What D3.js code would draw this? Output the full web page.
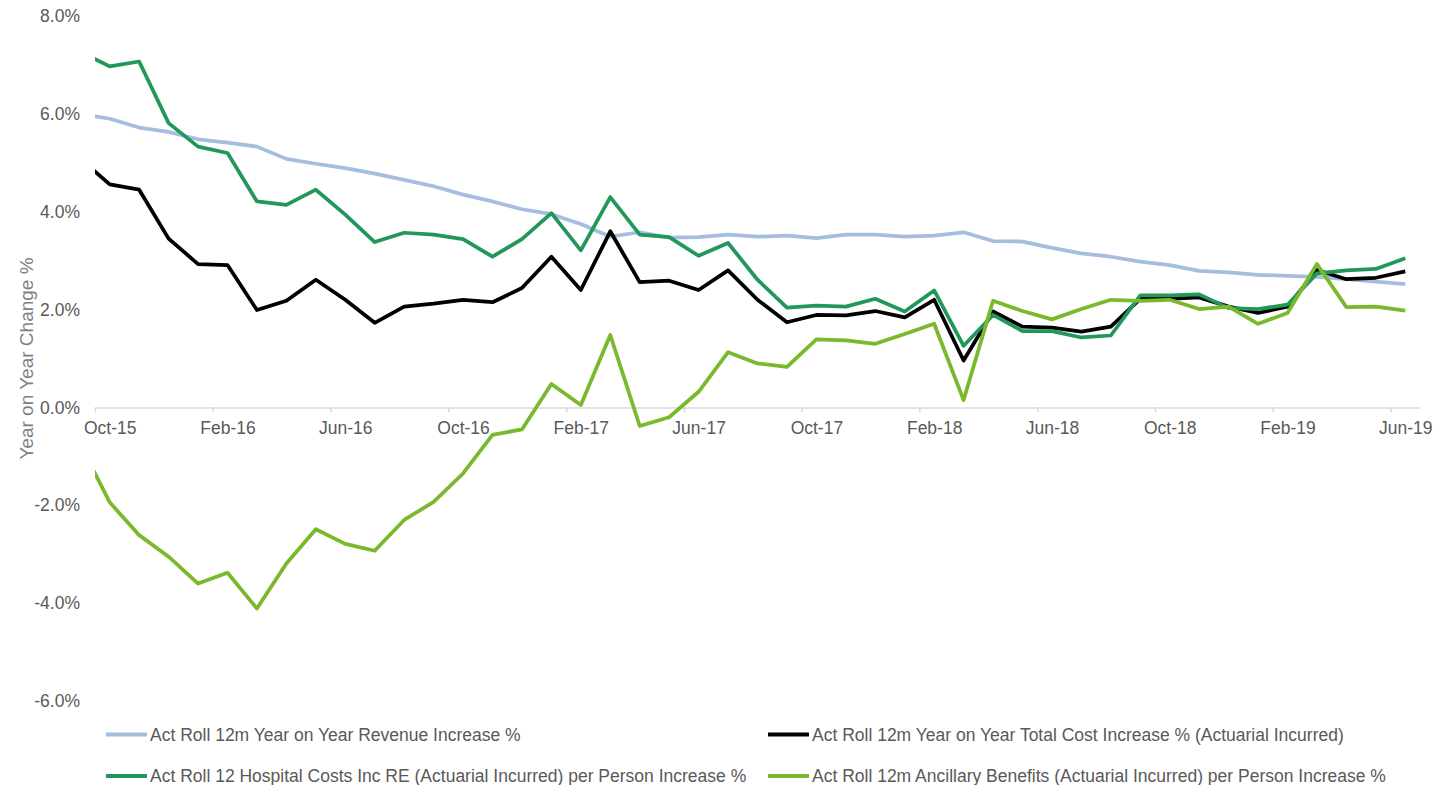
<!DOCTYPE html>
<html>
<head>
<meta charset="utf-8">
<script src="https://cdn.jsdelivr.net/npm/d3@7/dist/d3.min.js"></script>
<style>
  html, body { margin: 0; padding: 0; background: #ffffff; }
  svg { display: block; font-family: "Liberation Sans", Arial, sans-serif; }
</style>
</head>
<body>
<svg id="chart" width="1435" height="785"></svg>
<script>
// Months from Sep-15 to Jun-19; the Sep-15 point only feeds the clipped lead-in segment.
const months = [
  "Sep-15","Oct-15","Nov-15","Dec-15",
  "Jan-16","Feb-16","Mar-16","Apr-16","May-16","Jun-16","Jul-16","Aug-16","Sep-16","Oct-16","Nov-16","Dec-16",
  "Jan-17","Feb-17","Mar-17","Apr-17","May-17","Jun-17","Jul-17","Aug-17","Sep-17","Oct-17","Nov-17","Dec-17",
  "Jan-18","Feb-18","Mar-18","Apr-18","May-18","Jun-18","Jul-18","Aug-18","Sep-18","Oct-18","Nov-18","Dec-18",
  "Jan-19","Feb-19","Mar-19","Apr-19","May-19","Jun-19"
];

// Rolling 12 month year-on-year change, in percent
const revenue = [6.00, 5.90, 5.72, 5.63, 5.48, 5.41, 5.33, 5.08, 4.98, 4.89, 4.78, 4.65, 4.52, 4.35, 4.21, 4.05,
  3.95, 3.75, 3.49, 3.58, 3.47, 3.48, 3.53, 3.49, 3.51, 3.46, 3.53, 3.53, 3.49, 3.51, 3.58, 3.40, 3.39, 3.26,
  3.15, 3.08, 2.98, 2.91, 2.79, 2.76, 2.71, 2.69, 2.67, 2.62, 2.57, 2.52];
const totalCost = [5.08, 4.56, 4.45, 3.45, 2.93, 2.91, 1.99, 2.18, 2.61, 2.20, 1.73, 2.06, 2.12, 2.20, 2.15, 2.44,
  3.08, 2.40, 3.60, 2.56, 2.59, 2.40, 2.80, 2.20, 1.74, 1.89, 1.88, 1.97, 1.84, 2.20, 0.96, 1.96, 1.65, 1.63,
  1.55, 1.65, 2.22, 2.22, 2.25, 2.06, 1.93, 2.06, 2.81, 2.62, 2.65, 2.78];
const hospital = [7.27, 6.97, 7.07, 5.81, 5.33, 5.20, 4.21, 4.14, 4.45, 3.94, 3.38, 3.57, 3.53, 3.44, 3.08, 3.44,
  3.97, 3.21, 4.30, 3.53, 3.48, 3.10, 3.36, 2.61, 2.04, 2.08, 2.06, 2.22, 1.96, 2.39, 1.26, 1.89, 1.56, 1.56,
  1.43, 1.47, 2.29, 2.29, 2.31, 2.03, 2.01, 2.10, 2.74, 2.80, 2.83, 3.05];
const ancillary = [-0.76, -1.94, -2.61, -3.05, -3.60, -3.38, -4.11, -3.19, -2.49, -2.79, -2.93, -2.30, -1.93, -1.35,
  -0.56, -0.45, 0.48, 0.05, 1.48, -0.38, -0.20, 0.32, 1.13, 0.90, 0.83, 1.39, 1.37, 1.30, 1.50, 1.71, 0.15, 2.18,
  1.97, 1.80, 2.01, 2.20, 2.18, 2.20, 2.01, 2.06, 1.71, 1.93, 2.93, 2.05, 2.06, 1.98];

const seriesNames = [
  "Act Roll 12m Year on Year Revenue Increase %",
  "Act Roll 12m Year on Year Total Cost Increase % (Actuarial Incurred)",
  "Act Roll 12 Hospital Costs Inc RE (Actuarial Incurred) per Person Increase %",
  "Act Roll 12m Ancillary Benefits (Actuarial Incurred) per Person Increase %"
];
const seriesColors = ["#a5bde0", "#000000", "#21975a", "#79b92b"];
const seriesValues = [revenue, totalCost, hospital, ancillary];

const xTickLabels = ["Oct-15","Feb-16","Jun-16","Oct-16","Feb-17","Jun-17","Oct-17","Feb-18","Jun-18","Oct-18","Feb-19","Jun-19"];
const yTicks = [-6, -4, -2, 0, 2, 4, 6, 8];
const yTitle = "Year on Year Change %";

// ---- layout ----
const svg = d3.select("#chart");
const plot = { left: 95, right: 1420, top: 16, bottom: 701 };

// month slots: slot 0 = Oct-15 ... slot 44 = Jun-19; points sit mid-slot
const firstShown = months.indexOf("Oct-15");
const x = d3.scaleLinear().domain([0, 45]).range([plot.left, plot.right]);
const y = d3.scaleLinear().domain([-6, 8]).range([plot.bottom, plot.top]);
const xPos = i => x(i - firstShown + 0.5);

svg.append("defs").append("clipPath").attr("id", "plotClip")
  .append("rect")
  .attr("x", plot.left).attr("y", 0)
  .attr("width", plot.right - plot.left).attr("height", 785);

// ---- y axis labels (no axis line) ----
const pct = d => d3.format(".1f")(d).replace("\u2212", "-") + "%";
const yAxis = d3.axisLeft(y).tickValues(yTicks).tickSize(0).tickPadding(0).tickFormat(pct);
const yg = svg.append("g").attr("transform", "translate(80,0)").call(yAxis);
yg.select(".domain").remove();
yg.selectAll("text")
  .attr("fill", "#595959")
  .style("font-size", "17.5px")
  .style("font-family", "'Liberation Sans', Arial, sans-serif");

// ---- x axis at zero ----
const xAxis = d3.axisBottom(x)
  .tickValues(d3.range(0, 45, 4))
  .tickSize(5)
  .tickSizeOuter(0)
  .tickFormat((d, i) => xTickLabels[i]);
const xg = svg.append("g").attr("transform", `translate(0,${y(0)})`).call(xAxis);
xg.select(".domain").attr("stroke", "#d9d9d9").attr("stroke-width", 1.5);
xg.selectAll(".tick line").attr("stroke", "#d9d9d9").attr("stroke-width", 1.5);
xg.selectAll(".tick text")
  .attr("x", x(0.5) - x(0))
  .attr("y", 14)
  .attr("fill", "#595959")
  .style("font-size", "17.5px")
  .style("font-family", "'Liberation Sans', Arial, sans-serif");

// ---- axis title ----
svg.append("text")
  .attr("transform", `translate(33,${(plot.top + plot.bottom) / 2}) rotate(-90)`)
  .attr("text-anchor", "middle")
  .attr("fill", "#7f7f7f")
  .style("font-size", "19px")
  .text(yTitle);

// ---- lines ----
const line = d3.line()
  .x((d, i) => xPos(i))
  .y(d => y(d));

const lines = svg.append("g").attr("clip-path", "url(#plotClip)");
seriesValues.forEach((vals, k) => {
  lines.append("path")
    .datum(vals)
    .attr("fill", "none")
    .attr("stroke", seriesColors[k])
    .attr("stroke-width", 3.75)
    .attr("stroke-linejoin", "round")
    .attr("d", line);
});

// ---- legend (2 x 2) ----
const legendCols = [106, 768];
const legendRows = [734.5, 776];
const legend = svg.append("g");
seriesNames.forEach((name, k) => {
  const lx = legendCols[k % 2];
  const ly = legendRows[Math.floor(k / 2)];
  const g = legend.append("g").attr("transform", `translate(${lx},${ly})`);
  g.append("line")
    .attr("x1", 0).attr("x2", 41)
    .attr("y1", 0).attr("y2", 0)
    .attr("stroke", seriesColors[k])
    .attr("stroke-width", 4);
  g.append("text")
    .attr("x", 44)
    .attr("dy", "0.35em")
    .attr("fill", "#595959")
    .style("font-size", "17.5px")
    .text(name);
});
</script>
</body>
</html>
